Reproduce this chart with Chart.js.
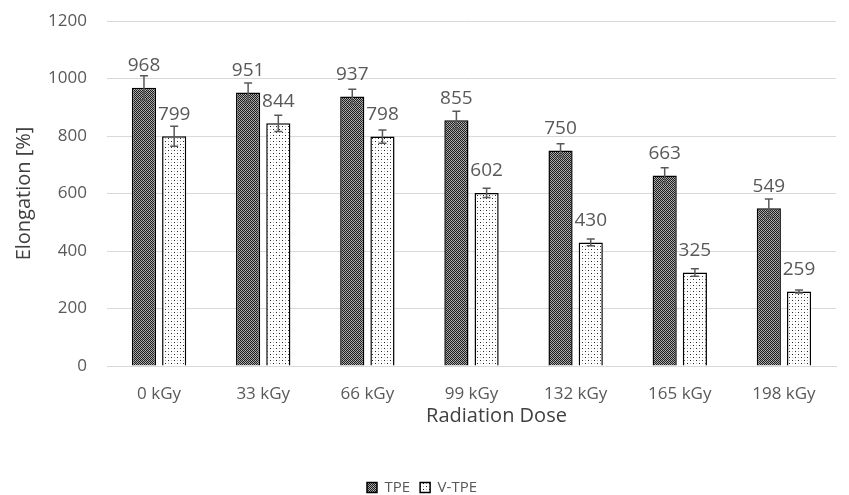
<!DOCTYPE html>
<html>
<head>
<meta charset="utf-8">
<script src="https://cdn.jsdelivr.net/npm/chart.js@4"></script>
<style>
  html, body { margin: 0; padding: 0; background: #fff; }
  #wrap { width: 849px; height: 495px; }
</style>
</head>
<body>
<div id="wrap"><canvas id="idCanvas" width="849" height="495"></canvas></div>
<script>
const doses = ['0 kGy', '33 kGy', '66 kGy', '99 kGy', '132 kGy', '165 kGy', '198 kGy'];
const tpe = [968, 951, 937, 855, 750, 663, 549];
const vtpe = [799, 844, 798, 602, 430, 325, 259];
const tpeErr = [42, 33, 26, 31, 23, 27, 32];
const vtpeErr = [35, 28, 23, 16, 12, 13, 5];
const yTicks = [0, 200, 400, 600, 800, 1000, 1200];

// motivi di riempimento tipo Excel
function motivo(w, h, disegna) {
    let c = document.createElement('canvas');
    c.width = w; c.height = h;
    let g = c.getContext('2d');
    disegna(g);
    return document.getElementById('idCanvas').getContext('2d').createPattern(c, 'repeat');
}

const scacchi = motivo(4, 4, g => {
    g.fillStyle = '#a0a0a0';
    g.fillRect(0, 0, 4, 4);
    g.fillStyle = '#1e1e1e';
    for (let x = 0; x < 4; x++) {
        for (let y = 0; y < 4; y++) {
            if ((x + y) % 2 == 0) g.fillRect(x, y, 1, 1);
        }
    }
    g.fillStyle = '#bcbcbc';
    g.fillRect(3, 0, 1, 1);
    g.fillRect(1, 2, 1, 1);
});

const puntini = motivo(6, 6, g => {
    g.fillStyle = '#ffffff';
    g.fillRect(0, 0, 6, 6);
    g.fillStyle = '#222222';
    g.fillRect(0, 0, 1, 1);
    g.fillRect(3, 3, 1, 1);
    g.fillStyle = '#b0b0b0';
    g.fillRect(3, 0, 1, 1);
    g.fillRect(0, 3, 1, 1);
});

const errori = [tpeErr, vtpeErr];

const barreErrore = {
    id: 'barreErrore',
    afterDatasetsDraw(chart) {
        let ctx = chart.ctx;
        let y = chart.scales.y;
        ctx.save();
        ctx.strokeStyle = '#595959';
        ctx.lineWidth = 1.5;
        chart.data.datasets.forEach((ds, i) => {
            chart.getDatasetMeta(i).data.forEach((bar, j) => {
                let v = ds.data[j];
                let e = errori[i][j];
                let top = y.getPixelForValue(v + e);
                let bot = y.getPixelForValue(v - e);
                ctx.beginPath();
                ctx.moveTo(bar.x, top);
                ctx.lineTo(bar.x, bot);
                ctx.moveTo(bar.x - 4, top);
                ctx.lineTo(bar.x + 4, top);
                ctx.moveTo(bar.x - 4, bot);
                ctx.lineTo(bar.x + 4, bot);
                ctx.stroke();
            });
        });
        ctx.restore();
    }
};

const etichette = {
    id: 'etichette',
    afterDatasetsDraw(chart) {
        let ctx = chart.ctx;
        ctx.save();
        ctx.fillStyle = '#595959';
        ctx.font = '19px "Open Sans"';
        ctx.textAlign = 'center';
        ctx.textBaseline = 'middle';
        chart.data.datasets.forEach((ds, i) => {
            chart.getDatasetMeta(i).data.forEach((bar, j) => {
                ctx.fillText(ds.data[j], bar.x, bar.y - 22);
            });
        });
        ctx.restore();
    }
};

// titolo asse x, un po' spostato a destra come nell'originale
const titoloX = {
    id: 'titoloX',
    afterDraw(chart) {
        let a = chart.chartArea;
        let ctx = chart.ctx;
        ctx.save();
        ctx.fillStyle = '#404040';
        ctx.font = '20px "Open Sans"';
        ctx.textAlign = 'center';
        ctx.textBaseline = 'middle';
        ctx.fillText('Radiation Dose', (a.left + a.right) / 2 + 25, a.bottom + 50);
        ctx.restore();
    }
};

let ctx = document.getElementById('idCanvas').getContext('2d');
let myChart = new Chart(ctx, {
    type: 'bar',
    data: {
        labels: doses,
        datasets: [{
            label: 'TPE',
            data: tpe,
            backgroundColor: scacchi,
            borderColor: '#000000',
            borderWidth: 1.5,
            categoryPercentage: 0.58,
            barPercentage: 0.8
        }, {
            label: 'V-TPE',
            data: vtpe,
            backgroundColor: puntini,
            borderColor: '#000000',
            borderWidth: 1.5,
            categoryPercentage: 0.58,
            barPercentage: 0.8
        }]
    },
    options: {
        responsive: false,
        animation: false,
        layout: { padding: { top: 0, right: 13, left: 8, bottom: -10 } },
        plugins: {
            legend: {
                position: 'bottom',
                labels: {
                    boxWidth: 10,
                    boxHeight: 10,
                    padding: 10,
                    color: '#595959',
                    font: { family: 'Open Sans', size: 15 }
                }
            },
            tooltip: { enabled: false }
        },
        scales: {
            x: {
                grid: { display: false },
                border: { color: '#d9d9d9', width: 1 },
                ticks: {
                    color: '#595959',
                    padding: 10,
                    font: { family: 'Open Sans', size: 17 }
                },
                afterFit: s => { s.height = 104; }
            },
            y: {
                min: 0,
                max: 1200,
                afterBuildTicks: s => { s.ticks = yTicks.map(v => ({ value: v })); },
                grid: { color: '#d9d9d9', lineWidth: 1, drawTicks: false },
                border: { display: false },
                ticks: {
                    color: '#595959',
                    padding: 20,
                    font: { family: 'Open Sans', size: 17 },
                    callback: v => String(v)
                },
                title: {
                    display: true,
                    text: 'Elongation [%]',
                    color: '#404040',
                    font: { family: 'Open Sans', size: 20 }
                },
                afterFit: s => {
                    s.width = 99;
                    s.paddingTop = 21;
                    s.paddingBottom = 0;
                }
            }
        }
    },
    plugins: [barreErrore, etichette, titoloX]
});
</script>
</body>
</html>
